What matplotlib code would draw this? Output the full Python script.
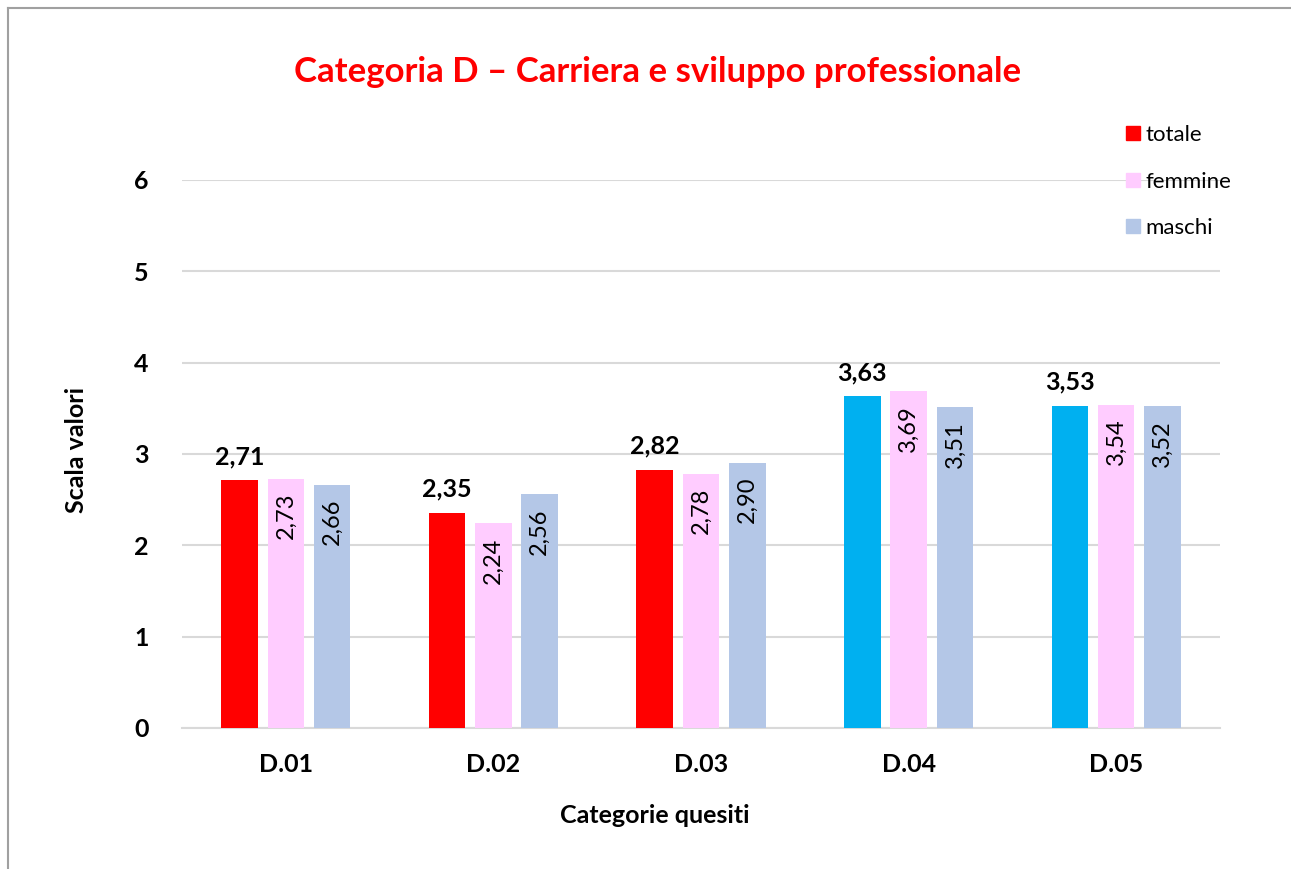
import numpy as np
import matplotlib.pyplot as plt
from matplotlib.lines import Line2D
from matplotlib.patches import Patch

plt.rcParams['font.family'] = ['Lato', 'DejaVu Sans']

# Dati
categorie = ['D.01', 'D.02', 'D.03', 'D.04', 'D.05']
totale = [2.71, 2.35, 2.82, 3.63, 3.53]
femmine = [2.73, 2.24, 2.78, 3.69, 3.54]
maschi = [2.66, 2.56, 2.90, 3.51, 3.52]
colori_totale = ['#FF0000', '#FF0000', '#FF0000', '#00B0F0', '#00B0F0']
col_femmine = '#FFCCFF'
col_maschi = '#B4C7E7'

def fmt(v):
    return f'{v:.2f}'.replace('.', ',')

fig = plt.figure(figsize=(12.91, 8.69), dpi=100)
ax = fig.add_axes([0.141, 0.1623, 0.804, 0.6306])

x = np.arange(len(categorie))
w = 0.176
off = 0.223

b_tot = ax.bar(x - off, totale, w, color=colori_totale, zorder=3)
b_fem = ax.bar(x, femmine, w, color=col_femmine, zorder=3)
b_mas = ax.bar(x + off, maschi, w, color=col_maschi, zorder=3)

# Etichette
for xi, v in zip(x - off, totale):
    ax.annotate(fmt(v), (xi, v), xytext=(0, 9), textcoords='offset points',
                ha='center', va='bottom', fontsize=18, fontweight='bold')
for serie, dx in [(femmine, 0), (maschi, off)]:
    for xi, v in zip(x + dx, serie):
        ax.annotate(fmt(v), (xi, v), xytext=(0, -10), textcoords='offset points',
                    ha='center', va='top', rotation=90, fontsize=17)

ax.set_xlim(-0.5, 4.5)
ax.set_ylim(0, 6)
ax.set_yticks(range(0, 7))
ax.set_xticks(x)
ax.set_xticklabels(categorie)
ax.tick_params(axis='both', length=0, labelsize=18)
ax.tick_params(axis='y', pad=24)
ax.tick_params(axis='x', pad=18)
for lab in ax.get_xticklabels() + ax.get_yticklabels():
    lab.set_fontweight('bold')

ax.grid(axis='y', color='#D9D9D9', linewidth=1.5, zorder=0)
for s in ['top', 'right', 'left']:
    ax.spines[s].set_visible(False)
ax.spines['bottom'].set_color('#D9D9D9')
ax.spines['bottom'].set_linewidth(1.5)

# Titoli degli assi
fig.text(0.5075, 0.062, 'Categorie quesiti', ha='center', va='center',
         fontsize=18, fontweight='bold')
fig.text(0.059, 0.482, 'Scala valori', ha='center', va='center', rotation=90,
         fontsize=18, fontweight='bold')

fig.text(0.509, 0.917, 'Categoria D – Carriera e sviluppo professionale',
         ha='center', va='center', fontsize=25, fontweight='bold', color='#FF0000')

handles = [Patch(color='#FF0000'), Patch(color=col_femmine), Patch(color=col_maschi)]
fig.legend(handles, ['totale', 'femmine', 'maschi'], loc='upper left',
           bbox_to_anchor=(0.8655, 0.8665), frameon=False, fontsize=16,
           handlelength=0.6, handleheight=0.6, handletextpad=0.25,
           labelspacing=1.2, borderaxespad=0)

# Bordo
fig.add_artist(Line2D([7.5 / 1291, 7.5 / 1291], [0, 1 - 7.5 / 869],
                      transform=fig.transFigure, color='#A0A0A0', lw=1.5))
fig.add_artist(Line2D([7.5 / 1291, 1], [1 - 7.5 / 869, 1 - 7.5 / 869],
                      transform=fig.transFigure, color='#A0A0A0', lw=1.5))

plt.savefig('out.png', dpi=100)
